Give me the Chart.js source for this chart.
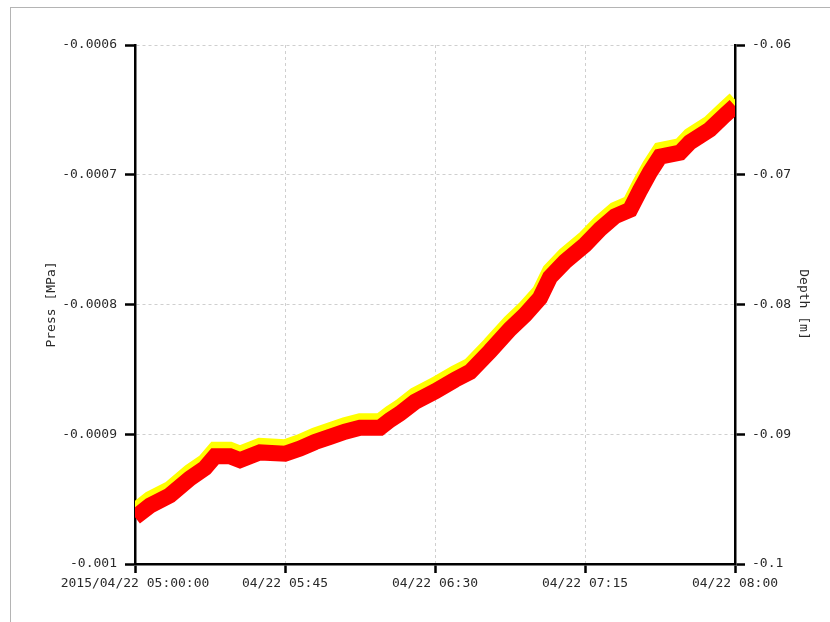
<!DOCTYPE html>
<html>
<head>
<meta charset="utf-8">
<script src="https://cdn.jsdelivr.net/npm/chart.js@4.4.1/dist/chart.umd.min.js"></script>
<style>
  body { margin: 0; background: #fff; }
  #wrap { position: relative; width: 830px; height: 622px; overflow: hidden; }
  #frame { position: absolute; left: 10px; top: 7px; width: 900px; height: 700px;
           border-left: 1.5px solid #b4b4b4; border-top: 1.5px solid #b4b4b4; }
  canvas { position: absolute; left: 0; top: 0; }
</style>
</head>
<body>
<div id="wrap">
  <div id="frame"></div>
  <canvas id="pressChart" width="830" height="622"></canvas>
</div>
<script>
// minutes after 2015/04/22 05:00:00
const elapsedMin = [0, 4.5, 10.5, 16.5, 21, 24, 28.5, 31.5, 37.5, 45, 49.5, 54, 58.5, 63, 67.5, 73.5,
  76.5, 79.5, 84, 90, 96, 100.5, 106.5, 112.5, 117, 121.5, 124.5, 129, 135, 139.5, 144, 148.5,
  151.5, 154.5, 157.5, 163.5, 166.5, 172.5, 177, 180];

// Press [MPa]
const pressValues = [-0.000964, -0.000955, -0.000947, -0.000934, -0.000926, -0.000917, -0.000917,
  -0.000920, -0.000914, -0.000915, -0.000911, -0.000906, -0.000902, -0.000898, -0.000895, -0.000895,
  -0.000889, -0.000884, -0.000875, -0.000867, -0.000858, -0.000852, -0.000836, -0.000819, -0.000808,
  -0.000795, -0.000779, -0.000767, -0.000754, -0.000742, -0.000732, -0.000727, -0.000712, -0.000698,
  -0.000686, -0.000683, -0.000675, -0.000665, -0.000654, -0.000647];

// Depth [m]
const depthValues = [-0.0959, -0.0950, -0.0942, -0.0929, -0.0921, -0.0912, -0.0912, -0.0915, -0.0909,
  -0.0910, -0.0906, -0.0901, -0.0897, -0.0893, -0.0890, -0.0890, -0.0884, -0.0879, -0.0870, -0.0862,
  -0.0853, -0.0847, -0.0831, -0.0814, -0.0803, -0.0790, -0.0774, -0.0762, -0.0749, -0.0737, -0.0727,
  -0.0722, -0.0707, -0.0693, -0.0681, -0.0678, -0.0670, -0.0660, -0.0649, -0.0642];

const xTickMin = [0, 45, 90, 135, 180];
const xTickLabels = ['2015/04/22 05:00:00', '04/22 05:45', '04/22 06:30', '04/22 07:15', '04/22 08:00'];
const pressTicks = [-0.001, -0.0009, -0.0008, -0.0007, -0.0006];
const pressTickLabels = ['-0.001', '-0.0009', '-0.0008', '-0.0007', '-0.0006'];
const depthTicks = [-0.1, -0.09, -0.08, -0.07, -0.06];
const depthTickLabels = ['-0.1', '-0.09', '-0.08', '-0.07', '-0.06'];

const tickFont = { family: "'DejaVu Sans Mono', monospace", size: 13 };
const textColor = '#2a2a2a';
const gridColor = '#cfcfcf';

function toPoints(xs, ys) {
  return xs.map((x, i) => ({ x: x, y: ys[i] }));
}

// Build ticks straight from the arrays (avoid float drift)
function fixedTicks(values) {
  return scale => { scale.ticks = values.map(v => ({ value: v })); };
}

const ctx = document.getElementById('pressChart').getContext('2d');
new Chart(ctx, {
  type: 'line',
  data: {
    datasets: [
      {
        label: 'Press',
        data: toPoints(elapsedMin, pressValues),
        yAxisID: 'yPress',
        borderColor: '#ff0000',
        borderWidth: 16,
        borderJoinStyle: 'miter',
        tension: 0,
        pointRadius: 0,
        fill: false,
        clip: 0,
        order: 0
      },
      {
        label: 'Depth',
        data: toPoints(elapsedMin, depthValues),
        yAxisID: 'yDepth',
        borderColor: '#ffff00',
        borderWidth: 16,
        borderJoinStyle: 'miter',
        tension: 0,
        pointRadius: 0,
        fill: false,
        clip: 0,
        order: 1
      }
    ]
  },
  options: {
    responsive: false,
    animation: false,
    layout: { padding: { top: 45, left: 0, right: 0, bottom: 0 } },
    plugins: { legend: { display: false }, tooltip: { enabled: false } },
    scales: {
      x: {
        type: 'linear',
        position: 'bottom',
        min: 0,
        max: 180,
        afterBuildTicks: fixedTicks(xTickMin),
        afterFit: s => { s.height = 58; },
        border: { display: true, color: '#000', width: 2.5, dash: [3, 3] },
        grid: {
          color: c => (c.tick && (c.tick.value === 0 || c.tick.value === 180)) ? 'transparent' : gridColor,
          lineWidth: 1,
          tickColor: '#000',
          tickWidth: 2.5,
          tickLength: 9
        },
        ticks: {
          autoSkip: false,
          maxRotation: 0,
          padding: 3,
          color: textColor,
          font: tickFont,
          callback: v => xTickLabels[xTickMin.indexOf(v)]
        }
      },
      yPress: {
        type: 'linear',
        position: 'left',
        min: -0.001,
        max: -0.0006,
        afterBuildTicks: fixedTicks(pressTicks),
        afterFit: s => { s.width = 135; },
        border: { display: true, color: '#000', width: 2.5, dash: [3, 3] },
        grid: {
          color: c => (c.tick && c.tick.value === -0.001) ? 'transparent' : gridColor,
          lineWidth: 1,
          tickColor: '#000',
          tickWidth: 2.5,
          tickLength: 10
        },
        ticks: {
          padding: 8,
          color: textColor,
          font: tickFont,
          callback: v => pressTickLabels[pressTicks.indexOf(v)]
        },
        title: {
          display: true,
          text: 'Press [MPa]',
          color: textColor,
          font: tickFont,
          padding: { top: 44, bottom: 0 }
        }
      },
      yDepth: {
        type: 'linear',
        position: 'right',
        min: -0.1,
        max: -0.06,
        afterBuildTicks: fixedTicks(depthTicks),
        afterFit: s => { s.width = 95; },
        border: { display: true, color: '#000', width: 2.5 },
        grid: {
          drawOnChartArea: false,
          tickColor: '#000',
          tickWidth: 2.5,
          tickLength: 10
        },
        ticks: {
          padding: 7,
          color: textColor,
          font: tickFont,
          callback: v => depthTickLabels[depthTicks.indexOf(v)]
        },
        title: {
          display: true,
          text: 'Depth [m]',
          color: textColor,
          font: tickFont,
          padding: { top: 19, bottom: 0 }
        }
      }
    }
  }
});
</script>
</body>
</html>
